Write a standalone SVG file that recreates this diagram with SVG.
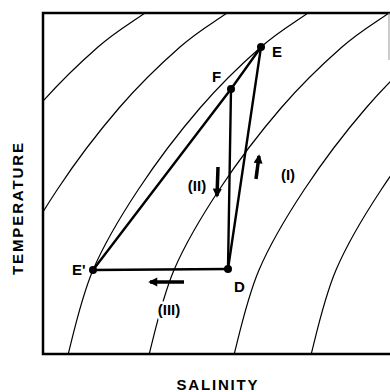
<svg xmlns="http://www.w3.org/2000/svg" width="390" height="392" viewBox="0 0 390 392">
<style>
.iso{fill:none;stroke:#000;stroke-width:1.2}
.edge{fill:none;stroke:#000;stroke-width:2.4;stroke-linecap:round}
.dot{fill:#000}
.lbl{font-family:"Liberation Sans",Arial,sans-serif;font-weight:bold;font-size:15px;fill:#000}
.ax{font-family:"Liberation Sans",Arial,sans-serif;font-weight:bold;font-size:15px;fill:#000}
.arr{fill:none;stroke:#000;stroke-width:3.5}
.halo{stroke:#fff;stroke-width:5;paint-order:stroke}
</style>
<defs>
<clipPath id="box"><rect x="43" y="13" width="347" height="341"/></clipPath>
<path id="iso" d="M360,-22 C343,-10.7 324.5,1.5 308,13 C291.5,24.5 279,31.2 261,47 C243,62.8 220.5,84.2 200,108 C179.5,131.8 155.8,163 138,190 C120.2,217 104.7,242.5 93,270 C81.3,297.5 74.3,330 68,355 C61.7,380 58.3,399.2 55,420"/>
<marker id="ah" viewBox="0 0 10 10" refX="8" refY="5" markerWidth="2.8" markerHeight="2.6" orient="auto" markerUnits="strokeWidth"><path d="M0,0 L10,5 L0,10 z" fill="#000"/></marker>
</defs>
<g id="isolines" clip-path="url(#box)">
<use href="#iso" class="iso" transform="translate(-163,0)"/>
<use href="#iso" class="iso" transform="translate(-81,0)"/>
<use href="#iso" class="iso"/>
<use href="#iso" class="iso" transform="translate(81,0)"/>
<use href="#iso" class="iso" transform="translate(166,0)"/>
<use href="#iso" class="iso" transform="translate(243,0)"/>
</g>
<g id="frame">
<path d="M390,13 L43,13 L43,354 L390,354" fill="none" stroke="#000" stroke-width="2.5"/>
<line x1="389" y1="13" x2="389" y2="60" stroke="#999" stroke-width="1"/>
</g>
<g id="connectors">
<line class="edge" x1="261" y1="47" x2="228" y2="269"/>
<line class="edge" x1="231" y1="89" x2="228" y2="269"/>
<polyline class="edge" points="93,270 231,89 261,47"/>
<line class="edge" x1="93" y1="270" x2="228" y2="269"/>
</g>
<g id="arrows">
<line class="arr" x1="256" y1="179" x2="259" y2="156" marker-end="url(#ah)"/>
<line class="arr" x1="218" y1="167" x2="217" y2="196" marker-end="url(#ah)"/>
<line class="arr" x1="184" y1="282" x2="150" y2="282" marker-end="url(#ah)"/>
</g>
<g id="node-E"><circle class="dot" cx="261" cy="47" r="4"/><text class="lbl" x="272" y="57">E</text></g>
<g id="node-F"><circle class="dot" cx="231" cy="89" r="4"/><text class="lbl" x="212" y="82">F</text></g>
<g id="node-E2"><circle class="dot" cx="93" cy="270" r="4"/><text class="lbl" x="72" y="275">E'</text></g>
<g id="node-D"><circle class="dot" cx="228" cy="269" r="4"/><text class="lbl" x="234" y="292">D</text></g>
<g id="labels">
<text class="lbl halo" x="288" y="180" text-anchor="middle">(I)</text>
<text class="lbl halo" x="197" y="191" text-anchor="middle">(II)</text>
<text class="lbl halo" x="169" y="315" text-anchor="middle">(III)</text>
<text class="ax" x="217" y="390" text-anchor="middle" textLength="81" lengthAdjust="spacing">SALINITY</text>
<text class="ax" transform="translate(23,209) rotate(-90)" text-anchor="middle" textLength="132" lengthAdjust="spacing">TEMPERATURE</text>
</g>
</svg>
